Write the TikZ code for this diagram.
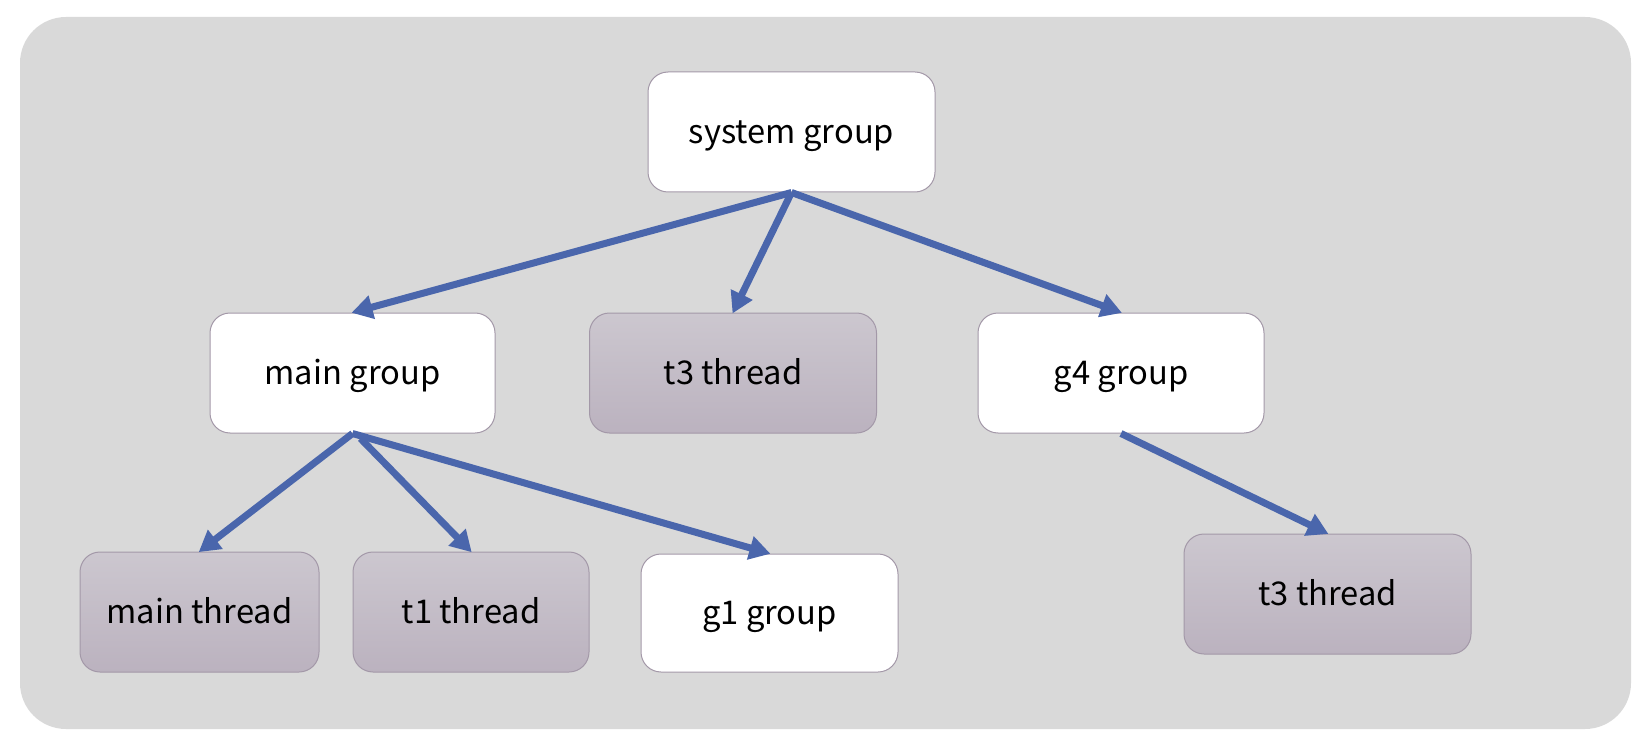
\documentclass[tikz,border=0pt]{standalone}
\usepackage{fontspec}
\setmainfont{Noto Sans CJK SC}
\usetikzlibrary{arrows.meta}
\definecolor{panel}{HTML}{D9D9D9}
\definecolor{edge}{HTML}{4A66AC}
\definecolor{boxline}{HTML}{A398A8}
\definecolor{threadtop}{HTML}{CCC7CF}
\definecolor{threadbot}{HTML}{BBB2BF}
\tikzset{
  box/.style={draw=boxline, line width=1pt, rounded corners=20pt,
    minimum width=287pt, minimum height=120pt, inner sep=0pt,
    text height=23.5pt, text depth=0pt,
    font=\fontsize{32.7}{38}\selectfont},
  groupbox/.style={box, fill=white},
  threadbox/.style={box, top color=threadtop, bottom color=threadbot},
  link/.style={draw=edge, line width=7pt,
    -{Triangle[length=21pt,width=23pt]}, shorten >=-1pt}
}
\begin{document}
\begin{tikzpicture}[x=1pt,y=-1pt]
\useasboundingbox (0,0) rectangle (1652,746);
\fill[panel, rounded corners=46pt] (20,17) rectangle (1631,729);

\node[groupbox] (sys) at (791.5,132) {system group};
\node[groupbox, minimum width=285pt] (main) at (352.5,373) {main group};
\node[threadbox] (t3a) at (733,373) {t3 thread};
\node[groupbox, minimum width=286pt] (g4) at (1121,373) {g4 group};
\node[threadbox, minimum width=239pt] (mthr) at (199.5,612) {main thread};
\node[threadbox, minimum width=236pt] (t1) at (471,612) {t1 thread};
\node[groupbox, minimum width=257pt, minimum height=118pt] (g1) at (769.5,613) {g1 group};
\node[threadbox] (t3b) at (1327.5,594) {t3 thread};

\draw[link] (sys.south) -- (main.north);
\draw[link] (sys.south) -- (t3a.north);
\draw[link] (sys.south) -- (g4.north);
\draw[link] (main.south) -- (mthr.north);
\draw[link] ([xshift=8pt,yshift=-5pt]main.south) -- (t1.north);
\draw[link] (main.south) -- (g1.north);
\draw[link] (g4.south) -- (t3b.north);
\end{tikzpicture}
\end{document}
